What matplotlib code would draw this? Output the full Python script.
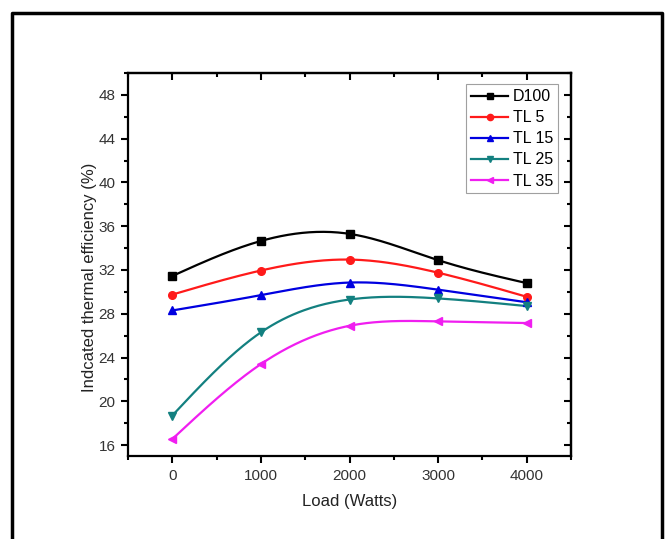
import matplotlib
matplotlib.use("Agg")
import matplotlib.pyplot as plt
from matplotlib.lines import Line2D
from matplotlib.ticker import MultipleLocator
import numpy as np

plt.rcParams['font.family'] = ['Liberation Sans', 'DejaVu Sans']

load = [0, 1000, 2000, 3000, 4000]
d100 = [31.45, 34.65, 35.3, 32.9, 30.8]
tl5 = [29.75, 31.95, 32.95, 31.75, 29.55]
tl15 = [28.3, 29.7, 30.85, 30.2, 29.05]
tl25 = [18.7, 26.3, 29.3, 29.4, 28.7]
tl35 = [16.55, 23.4, 26.9, 27.3, 27.15]

names = ['D100', 'TL 5', 'TL 15', 'TL 25', 'TL 35']
colors = ['black', '#ff1a1a', '#0000e0', '#138080', '#f01ef0']
markers = ['s', 'o', '^', 'v', '<']


def spline_curve(x, y, n=200):
    # natural cubic spline, only used for the connecting line
    x = np.asarray(x, float)
    y = np.asarray(y, float)
    k = len(x)
    h = np.diff(x)
    A = np.zeros((k, k))
    b = np.zeros(k)
    A[0, 0] = A[-1, -1] = 1
    for i in range(1, k - 1):
        A[i, i - 1] = h[i - 1]
        A[i, i] = 2 * (h[i - 1] + h[i])
        A[i, i + 1] = h[i]
        b[i] = 6 * ((y[i + 1] - y[i]) / h[i] - (y[i] - y[i - 1]) / h[i - 1])
    m = np.linalg.solve(A, b)
    xs = np.linspace(x[0], x[-1], n)
    idx = np.clip(np.searchsorted(x, xs) - 1, 0, k - 2)
    x0, x1 = x[idx], x[idx + 1]
    hh = x1 - x0
    t0 = x1 - xs
    t1 = xs - x0
    ys = (m[idx] * t0 ** 3 / (6 * hh) + m[idx + 1] * t1 ** 3 / (6 * hh)
          + (y[idx] / hh - m[idx] * hh / 6) * t0
          + (y[idx + 1] / hh - m[idx + 1] * hh / 6) * t1)
    return xs, ys


fig = plt.figure(figsize=(6.68, 5.39), dpi=100)
ax = fig.add_axes([128 / 668, 1 - 456 / 539, 443 / 668, 383 / 539])

series = [d100, tl5, tl15, tl25, tl35]
handles = []
for vals, name, c, mk in zip(series, names, colors, markers):
    xs, ys = spline_curve(load, vals)
    ax.plot(xs, ys, color=c, lw=1.6, zorder=2)
    ax.plot(load, vals, ls='none', marker=mk, color=c, ms=5.5, zorder=3)
    handles.append(Line2D([], [], color=c, lw=1.6, marker=mk, ms=4.5, label=name))

ax.set_xlim(-500, 4500)
ax.set_ylim(15, 50)
ax.xaxis.set_minor_locator(MultipleLocator(500))
ax.yaxis.set_minor_locator(MultipleLocator(2))
ax.set_yticks(np.arange(16, 49, 4))
ax.set_xticks(load)

tick_col = '#333333'
for s in ax.spines.values():
    s.set_linewidth(1.6)
ax.tick_params(which='major', direction='out', length=5, width=1.5,
               labelsize=11, labelcolor=tick_col, pad=4)
ax.tick_params(which='minor', direction='out', length=3, width=1.5)
ax.tick_params(which='both', top=False, right=False)

# inward ticks on top and right spines
sec_x = ax.secondary_xaxis('top')
sec_x.set_xticks(load)
sec_x.xaxis.set_minor_locator(MultipleLocator(500))
sec_x.tick_params(which='major', direction='in', length=5, width=1.5, labeltop=False)
sec_x.tick_params(which='minor', direction='in', length=3, width=1.5)
sec_x.spines['top'].set_linewidth(1.6)
sec_y = ax.secondary_yaxis('right')
sec_y.set_yticks(np.arange(16, 49, 4))
sec_y.yaxis.set_minor_locator(MultipleLocator(2))
sec_y.tick_params(which='major', direction='in', length=5, width=1.5, labelright=False)
sec_y.tick_params(which='minor', direction='in', length=3, width=1.5)
sec_y.spines['right'].set_linewidth(1.6)

ax.set_xlabel('Load (Watts)', fontsize=12, labelpad=8, color='#222222')
ax.set_ylabel('Indcated thermal efficiency (%)', fontsize=12, color='#222222')
ax.yaxis.set_label_coords(-0.071, 0.467)

leg = ax.legend(handles=handles, loc='upper right', bbox_to_anchor=(0.97, 0.97),
                fontsize=11.5, frameon=True, fancybox=False, handlelength=2.3,
                handletextpad=0.3, borderpad=0.3, labelspacing=0.38,
                borderaxespad=0)
leg.get_frame().set_edgecolor('#888888')
leg.get_frame().set_linewidth(0.8)

# outer frame (bottom edge cut off)
fx = [12 / 668, 12 / 668, 662 / 668, 662 / 668]
fy = [0, 1 - 13 / 539, 1 - 13 / 539, 0]
fig.add_artist(Line2D(fx, fy, transform=fig.transFigure, color='black', lw=2.5))

fig.savefig('out.png', dpi=100)
